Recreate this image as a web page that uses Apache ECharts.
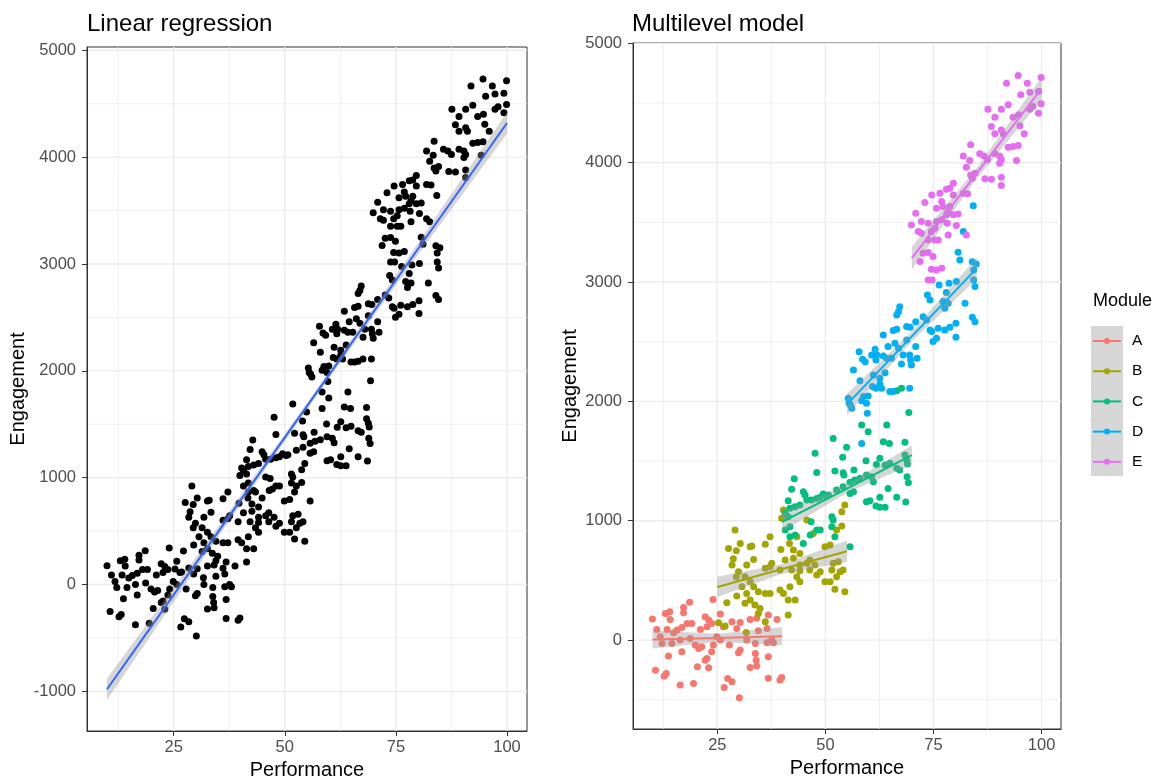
<!DOCTYPE html>
<html><head><meta charset="utf-8">
<script src="https://cdn.jsdelivr.net/npm/echarts@6/dist/echarts.min.js"></script>
<style>html,body{margin:0;padding:0;background:#fff}#c{width:1158px;height:778px}</style>
</head><body><div id="c"></div>
<script>
const modules = ['A','B','C','D','E'];
const moduleColors = ['#F8766D','#A3A500','#00BF7D','#00B0F6','#E76BF3'];
const xTicks = [25,50,75,100];
const xMinor = [12.5,37.5,62.5,87.5];
const yTicksL = [-1000,0,1000,2000,3000,4000,5000];
const yMinorL = [-500,500,1500,2500,3500,4500];
const yTicksR = [0,1000,2000,3000,4000,5000];
const yMinorR = [-500,500,1500,2500,3500,4500];

const ptsA = [[18.6,316],[17.2,274],[17.2,229],[24.0,341],[13.0,223],[14.0,237],[10.0,176],[14.1,173],[11.0,89],[13.4,89],[14.9,61],[15.7,84],[16.8,106],[18.0,140],[19.1,140],[22.2,195],[23.0,168],[23.7,140],[25.7,218],[28.4,154],[30.3,148],[32.6,173],[34.1,182],[36.8,210],[38.8,173],[21.1,89],[22.6,112],[26.4,112],[29.5,98],[34.5,78],[36.5,98],[11.8,28],[18.7,14],[24.9,28],[31.8,0],[37.6,0],[12.2,-28],[14.5,-28],[16.4,0],[19.9,-42],[20.7,-70],[21.4,-56],[24.1,-42],[25.7,0],[27.8,-42],[30.3,-84],[29.9,-106],[33.8,-28],[36.5,-22],[38.0,-22],[16.8,-98],[13.7,-134],[23.7,-98],[22.6,-154],[22.2,-168],[33.8,-112],[34.0,-168],[36.8,-140],[10.7,-252],[13.2,-280],[12.7,-302],[20.4,-224],[23.0,-232],[32.6,-229],[34.1,-218],[16.4,-377],[19.5,-363],[27.4,-321],[28.4,-349],[26.6,-397],[36.8,-319],[39.9,-313],[39.5,-335],[30.1,-483]];
const ptsB = [[29.1,922],[30.3,810],[32.6,782],[33.0,788],[27.6,768],[29.4,749],[28.7,681],[28.4,629],[31.8,629],[33.4,676],[29.9,573],[29.4,531],[37.2,866],[36.1,802],[39.7,760],[41.7,810],[42.6,754],[37.6,643],[37.2,615],[36.1,601],[40.7,671],[42.6,685],[44.1,629],[39.5,587],[42.2,587],[44.1,581],[45.7,643],[47.6,629],[46.4,587],[31.4,531],[32.6,489],[30.7,447],[33.4,447],[34.5,405],[36.1,391],[29.5,369],[31.8,391],[32.6,335],[33.7,293],[34.9,265],[34.5,223],[37.2,391],[39.5,419],[40.3,391],[41.8,447],[43.4,531],[44.1,489],[41.4,335],[43.0,335],[48.0,545],[48.8,573],[51.5,587],[53.4,573],[49.9,489],[51.1,489],[52.6,531],[54.1,587],[52.2,425],[54.5,405],[41.4,210],[51.8,643],[53.0,657],[44.1,726],[46.4,671],[51.1,796],[52.6,922],[53.8,956],[47.2,894],[49.9,782],[45.7,1006],[39.9,1020],[40.3,1090],[27.2,313],[31.4,308],[25.3,145],[26.8,117],[36.1,153],[31.7,64],[54.5,1132],[53.8,1075],[43.4,866]];
const ptsC = [[58.4,1802],[64.2,1802],[59.9,1746],[51.8,1690],[54.9,1615],[63.4,1662],[64.8,1648],[68.4,1657],[47.6,1565],[54.0,1531],[59.4,1503],[62.6,1523],[48.0,1405],[52.2,1417],[54.1,1402],[54.3,1383],[56.6,1425],[61.8,1472],[63.8,1467],[64.9,1481],[66.5,1439],[67.2,1425],[68.4,1551],[68.8,1509],[69.0,1475],[42.8,1352],[42.2,1263],[44.9,1243],[45.3,1215],[41.4,1168],[46.8,1173],[49.5,1224],[50.7,1215],[52.6,1257],[54.1,1285],[55.7,1322],[56.8,1341],[58.0,1355],[59.5,1383],[60.7,1369],[61.1,1327],[55.7,1229],[56.5,1243],[64.5,1271],[68.9,1369],[69.2,1319],[62.6,1196],[60.3,1168],[59.5,1159],[61.7,1123],[62.6,1112],[63.8,1112],[66.5,1196],[68.6,1157],[41.8,1104],[43.0,1118],[44.1,1132],[48.8,1196],[50.3,1207],[45.7,1173],[48.0,1187],[40.7,1062],[41.4,1034],[41.8,950],[40.7,922],[46.7,992],[51.5,1034],[51.8,1006],[51.5,950],[48.0,922],[48.8,922],[46.5,880],[43.0,880],[41.8,866],[52.2,866],[44.9,810],[55.7,782],[66.5,2090],[67.6,2110],[69.3,1908]];
const ptsD = [[80.7,3250],[81.1,3185],[84.0,3171],[84.9,3152],[84.3,3102],[80.3,3004],[78.6,2990],[76.3,2976],[84.6,2962],[84.3,3018],[78.0,2912],[73.6,2892],[74.2,2850],[77.2,2836],[78.4,2822],[77.6,2780],[82.3,2822],[67.2,2794],[66.9,2752],[66.5,2724],[70.9,2668],[72.6,2710],[73.4,2682],[68.8,2627],[69.6,2621],[74.2,2599],[74.6,2585],[76.1,2613],[77.6,2599],[78.8,2621],[80.2,2655],[84.0,2705],[84.6,2668],[65.7,2593],[66.5,2604],[63.4,2557],[66.1,2487],[68.8,2515],[75.7,2529],[74.9,2501],[80.2,2537],[64.5,2459],[66.9,2445],[61.5,2437],[70.9,2459],[57.8,2417],[61.9,2389],[60.7,2389],[58.6,2353],[59.2,2333],[63.4,2381],[64.2,2361],[65.3,2361],[61.7,2347],[68.0,2389],[69.5,2389],[71.2,2361],[67.6,2314],[69.7,2347],[69.9,2305],[56.5,2263],[63.8,2241],[61.1,2221],[58.0,2174],[62.6,2193],[60.9,2124],[61.7,2110],[63.0,2110],[62.6,2146],[64.9,2082],[65.7,2082],[55.3,2026],[55.5,1984],[56.1,1942],[55.8,1970],[58.8,2040],[59.9,2046],[58.4,2006],[59.5,1984],[59.7,1900],[69.5,2110],[58.4,1648],[84.2,3640],[81.9,3423]];
const ptsE = [[94.6,4731],[99.9,4714],[91.9,4666],[96.7,4666],[95.2,4569],[97.3,4591],[99.3,4597],[99.9,4493],[99.3,4415],[87.6,4448],[90.7,4448],[92.3,4485],[93.4,4381],[94.7,4401],[89.2,4381],[97.3,4448],[98.0,4471],[88.4,4303],[95.0,4309],[96.0,4242],[89.2,4242],[90.7,4275],[91.1,4242],[83.6,4150],[92.3,4130],[93.4,4136],[94.6,4144],[85.7,4074],[86.7,4057],[81.9,4057],[89.2,4074],[90.3,4057],[83.4,4018],[94.2,4018],[87.5,4024],[90.7,4024],[90.3,3996],[82.6,3962],[83.6,3898],[84.6,3912],[84.0,3870],[86.9,3865],[88.4,3862],[90.7,3879],[90.7,3809],[79.6,3828],[78.0,3778],[78.8,3786],[74.6,3730],[76.5,3744],[79.6,3730],[81.9,3744],[82.9,3739],[73.0,3666],[76.9,3674],[78.8,3633],[77.2,3633],[75.7,3619],[79.6,3563],[80.7,3571],[70.9,3577],[78.0,3563],[78.4,3591],[72.2,3507],[75.7,3507],[76.9,3521],[69.9,3479],[73.8,3493],[78.2,3493],[71.5,3423],[72.2,3409],[74.5,3423],[75.3,3451],[80.3,3473],[78.4,3395],[82.6,3395],[73.8,3353],[75.3,3353],[76.1,3353],[72.6,3241],[73.8,3247],[74.9,3214],[71.9,3172],[74.5,3107],[75.7,3102],[76.9,3116],[73.8,3018],[74.7,3018]];

// fitted lines: x, fitted y, half-width of confidence band
const fitAllX = [10,32.5,55,77.5,100];
const fitAllY = [-980,345,1670,2995,4320];
const fitAllSE = [100,50,30,50,100];
const fitAX = [10,25,40],  fitAY = [5,18,32],      fitASE = [75,35,75];
const fitBX = [25,40,55],  fitBY = [445,595,745],  fitBSE = [85,40,90];
const fitCX = [40,55,70],  fitCY = [990,1270,1550],fitCSE = [80,35,80];
const fitDX = [55,70,85],  fitDY = [1975,2545,3115],fitDSE = [90,40,90];
const fitEX = [70,85,100], fitEY = [3200,3910,4620],fitESE = [95,45,95];

const FONT = '"Liberation Sans", Arial, Helvetica, sans-serif';
const groups = [ptsA, ptsB, ptsC, ptsD, ptsE];
const fits = [[fitAX,fitAY,fitASE],[fitBX,fitBY,fitBSE],[fitCX,fitCY,fitCSE],[fitDX,fitDY,fitDSE],[fitEX,fitEY,fitESE]];

function gridLineSeries(gi, xMaj, xMin, yMaj, yMin) {
  const data = [];
  xMin.forEach(v => data.push([v, 0, 0]));
  yMin.forEach(v => data.push([v, 1, 0]));
  xMaj.forEach(v => data.push([v, 0, 1]));
  yMaj.forEach(v => data.push([v, 1, 1]));
  return {
    type: 'custom', xAxisIndex: gi, yAxisIndex: gi, silent: true, z: 0,
    data: data,
    renderItem: function (params, api) {
      const v = api.value(0), dir = api.value(1), major = api.value(2);
      const cs = params.coordSys;
      let shape;
      if (dir === 0) {
        const x = api.coord([v, 0])[0];
        shape = {x1: x, y1: cs.y, x2: x, y2: cs.y + cs.height};
      } else {
        const y = api.coord([50, v])[1];
        shape = {x1: cs.x, y1: y, x2: cs.x + cs.width, y2: y};
      }
      return {type: 'line', shape: shape,
        style: {stroke: '#ebebeb', lineWidth: major ? 1.4 : 0.8}};
    }
  };
}

function ribbonSeries(gi, fx, fy, fse) {
  return {
    type: 'custom', xAxisIndex: gi, yAxisIndex: gi, silent: true, z: 3,
    data: [[fx[0], fy[0]]],
    renderItem: function (params, api) {
      const pts = [];
      for (let i = 0; i < fx.length; i++) pts.push(api.coord([fx[i], fy[i] + fse[i]]));
      for (let i = fx.length - 1; i >= 0; i--) pts.push(api.coord([fx[i], fy[i] - fse[i]]));
      return {type: 'polygon', shape: {points: pts},
        style: {fill: 'rgba(153,153,153,0.4)'}};
    }
  };
}

function lineSeries(gi, fx, fy, color) {
  return {
    type: 'line', xAxisIndex: gi, yAxisIndex: gi, silent: true, z: 4,
    data: fx.map((x, i) => [x, fy[i]]), showSymbol: false, symbol: 'none',
    lineStyle: {color: color, width: 2}, animation: false
  };
}

const series = [];
series.push(gridLineSeries(0, xTicks, xMinor, yTicksL, yMinorL));
series.push(gridLineSeries(1, xTicks, xMinor, yTicksR, yMinorR));
groups.forEach(g => series.push({
  type: 'scatter', xAxisIndex: 0, yAxisIndex: 0, data: g, symbolSize: 7, z: 2,
  itemStyle: {color: '#000', opacity: 1}, silent: true
}));
series.push(ribbonSeries(0, fitAllX, fitAllY, fitAllSE));
series.push(lineSeries(0, fitAllX, fitAllY, '#3366FF'));
groups.forEach((g, i) => series.push({
  name: modules[i], type: 'scatter', xAxisIndex: 1, yAxisIndex: 1, data: g, symbolSize: 7, z: 2,
  itemStyle: {color: moduleColors[i], opacity: 1}, silent: true
}));
fits.forEach((f, i) => {
  series.push(ribbonSeries(1, f[0], f[1], f[2]));
  series.push(lineSeries(1, f[0], f[1], moduleColors[i]));
});

const plain = v => String(v);
function xAxisDef(gi, gap) {
  return {
    gridIndex: gi, type: 'value', min: 5.5, max: 104.5,
    splitLine: {show: false},
    axisLine: {show: true, onZero: false, lineStyle: {color: '#333', width: 1}},
    axisTick: {show: true, length: 5, customValues: xTicks, lineStyle: {color: '#333'}},
    axisLabel: {customValues: xTicks, formatter: plain, color: '#4d4d4d', fontSize: 16.5, margin: 8, fontFamily: FONT},
    name: 'Performance', nameLocation: 'middle', nameGap: gap,
    nameTextStyle: {color: '#000', fontSize: 20, fontFamily: FONT}
  };
}
function yAxisDef(gi, min, max, ticks, gap) {
  return {
    gridIndex: gi, type: 'value', min: min, max: max,
    splitLine: {show: false},
    axisLine: {show: true, onZero: false, lineStyle: {color: '#333', width: 1}},
    axisTick: {show: true, length: 5, customValues: ticks, lineStyle: {color: '#333'}},
    axisLabel: {customValues: ticks, formatter: plain, color: '#4d4d4d', fontSize: 16.5, margin: 11, fontFamily: FONT},
    name: 'Engagement', nameLocation: 'middle', nameGap: gap, nameRotate: 90,
    nameTextStyle: {color: '#000', fontSize: 20, fontFamily: FONT}
  };
}

const legendEls = [];
legendEls.push({type: 'text', left: 1093, top: 292, style: {text: 'Module', fontSize: 18, fontFamily: FONT, fill: '#000'}});
legendEls.push({type: 'rect', shape: {x: 1091, y: 326, width: 32, height: 150}, style: {fill: '#d6d6d6'}});
modules.forEach((m, i) => {
  const cy = 341 + i * 30.2;
  legendEls.push({type: 'line', shape: {x1: 1093, y1: cy, x2: 1121, y2: cy}, style: {stroke: moduleColors[i], lineWidth: 2}});
  legendEls.push({type: 'circle', shape: {cx: 1107, cy: cy, r: 3}, style: {fill: moduleColors[i]}});
  legendEls.push({type: 'text', x: 1132, y: cy, style: {text: m, fontSize: 15.5, fontFamily: FONT, fill: '#000', verticalAlign: 'middle', align: 'left'}});
});

const chart = echarts.init(document.getElementById('c'), null, {renderer: 'canvas'});
chart.setOption({
  animation: false,
  backgroundColor: '#fff',
  title: [
    {text: 'Linear regression', left: 87, top: 12, padding: 0,
     textStyle: {fontSize: 24, fontWeight: 'normal', color: '#000', fontFamily: FONT}},
    {text: 'Multilevel model', left: 632, top: 12, padding: 0,
     textStyle: {fontSize: 24, fontWeight: 'normal', color: '#000', fontFamily: FONT}}
  ],
  grid: [
    {left: 87, top: 47, width: 440, height: 684, show: true, borderColor: '#333', borderWidth: 1, backgroundColor: 'transparent', containLabel: false, outerBoundsMode: 'none'},
    {left: 633, top: 43, width: 428, height: 686, show: true, borderColor: '#333', borderWidth: 1, backgroundColor: 'transparent', containLabel: false, outerBoundsMode: 'none'}
  ],
  xAxis: [xAxisDef(0, 27), xAxisDef(1, 29)],
  yAxis: [yAxisDef(0, -1371, 5031, yTicksL, 59), yAxisDef(1, -745, 5003, yTicksR, 53)],
  graphic: legendEls,
  series: series
});
</script>
</body></html>
